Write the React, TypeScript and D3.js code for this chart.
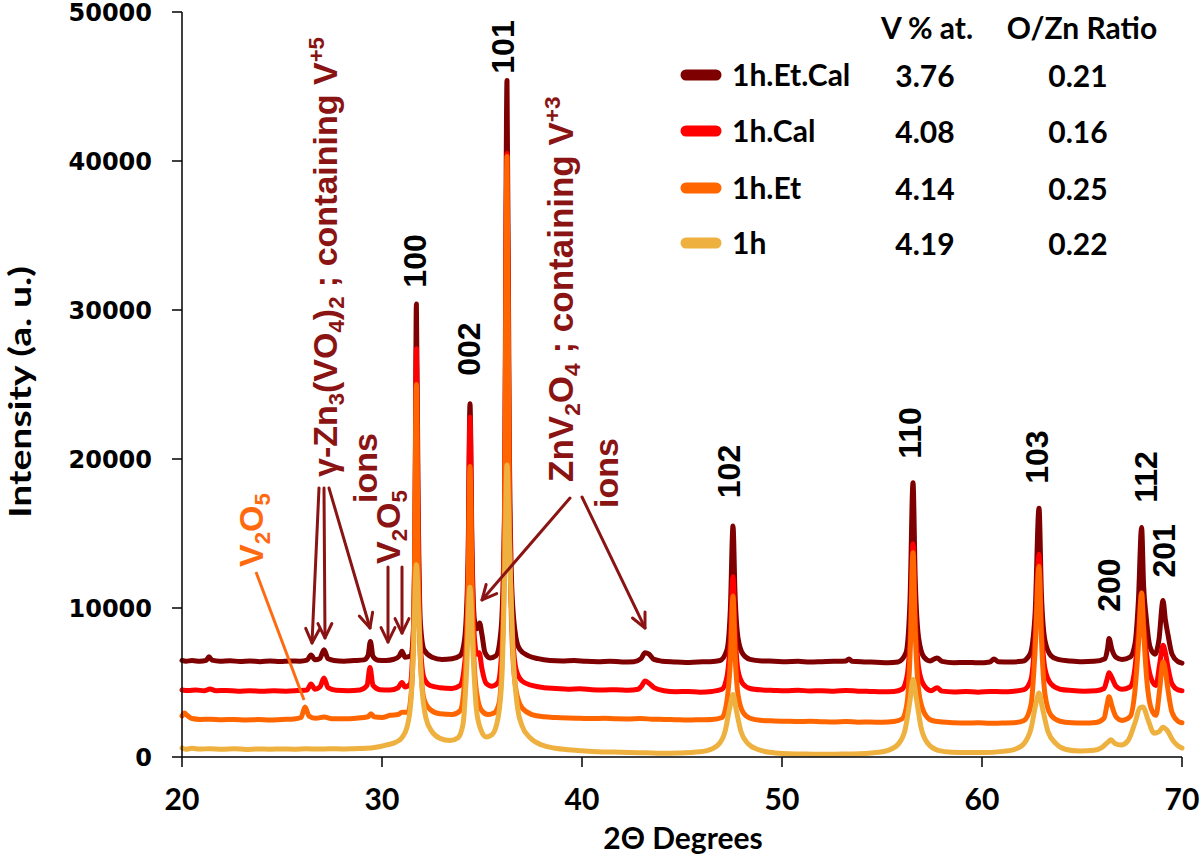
import React from 'react';
import * as d3 from 'd3';

type P = [number, number];

const seriesNames = ['1h.Et.Cal', '1h.Cal', '1h.Et', '1h'];
const vPercent = ['3.76', '4.08', '4.14', '4.19'];
const ozRatio = ['0.21', '0.16', '0.25', '0.22'];
const seriesColors = ['#7f0000', '#ff0000', '#ff6600', '#eeb03e'];
const xTicks = [20, 30, 40, 50, 60, 70];
const yTicks = [0, 10000, 20000, 30000, 40000, 50000];

const etCal: P[] = [
  [20.0, 6480], [20.2, 6430], [20.5, 6470], [20.9, 6420], [21.2, 6480], [21.35, 6720], [21.5, 6500], [21.9, 6430],
  [22.4, 6460], [22.9, 6410], [23.4, 6450], [23.9, 6400], [24.4, 6440], [24.9, 6410], [25.4, 6450], [25.9, 6430],
  [26.25, 6500], [26.45, 6850], [26.65, 6520], [26.9, 6620], [27.1, 7200], [27.3, 6600], [27.6, 6480], [28.1, 6430],
  [28.6, 6470], [29.1, 6520], [29.3, 6800], [29.42, 7750], [29.55, 6750], [29.8, 6500], [30.2, 6480], [30.6, 6560],
  [30.85, 6750], [31.0, 7100], [31.15, 6700], [31.45, 6800],
  [31.57, 8500], [31.65, 16000], [31.72, 30400], [31.8, 18000], [31.92, 9000], [32.1, 7200], [32.5, 6700], [33.0, 6550],
  [33.5, 6600], [33.9, 6800],
  [34.12, 7800], [34.3, 13000], [34.4, 23700], [34.5, 14000], [34.62, 9200], [34.75, 8600], [34.88, 9000], [35.0, 8200],
  [35.15, 7000], [35.4, 6650], [35.7, 6800],
  [35.95, 8500], [36.12, 16000], [36.25, 45400], [36.36, 22000], [36.5, 11000], [36.7, 8000], [36.9, 7200], [37.3, 6800],
  [37.8, 6600], [38.4, 6480], [39.0, 6450], [39.6, 6480], [40.2, 6420], [40.8, 6400], [41.4, 6430], [42.0, 6380],
  [42.6, 6400], [42.95, 6600], [43.15, 7000], [43.35, 6900], [43.6, 6550], [44.0, 6430], [44.6, 6380], [45.2, 6350],
  [45.8, 6380], [46.4, 6400], [46.9, 6480],
  [47.25, 7200], [47.42, 10000], [47.55, 15500], [47.65, 11000], [47.8, 8000], [48.05, 6900], [48.4, 6550], [49.0, 6450],
  [49.6, 6430], [50.2, 6400], [50.8, 6420], [51.4, 6380], [52.0, 6400], [52.6, 6420], [53.2, 6450], [53.35, 6580],
  [53.5, 6420], [54.1, 6380], [54.7, 6360], [55.3, 6330], [55.8, 6380],
  [56.2, 7000], [56.4, 10500], [56.55, 18400], [56.66, 12000], [56.83, 8000], [57.1, 6700], [57.4, 6450], [57.75, 6650],
  [58.0, 6420], [58.6, 6330], [59.2, 6350], [59.8, 6320], [60.4, 6380], [60.6, 6580], [60.8, 6400], [61.4, 6380],
  [62.0, 6420],
  [62.4, 6900], [62.65, 9500], [62.85, 16700], [62.97, 11000], [63.15, 7800], [63.45, 6800], [63.8, 6550], [64.4, 6450],
  [65.0, 6400], [65.6, 6420],
  [66.15, 6600], [66.28, 7300], [66.35, 7950], [66.5, 7200], [66.7, 6700], [67.0, 6550], [67.4, 6700],
  [67.65, 7600], [67.82, 10500], [67.98, 15400], [68.08, 11500], [68.2, 9500], [68.4, 7400], [68.65, 6900],
  [68.85, 7900], [69.05, 10500], [69.17, 9200], [69.3, 8200], [69.5, 6900], [69.8, 6400], [70.0, 6300],
];

const cal: P[] = [
  [20.0, 4500], [20.3, 4460], [20.7, 4500], [21.1, 4440], [21.4, 4560], [21.7, 4450], [22.2, 4470], [22.8, 4420],
  [23.4, 4450], [24.0, 4410], [24.6, 4440], [25.2, 4420], [25.8, 4460], [26.25, 4500], [26.45, 4900], [26.65, 4550],
  [26.9, 4700], [27.1, 5300], [27.3, 4650], [27.7, 4480], [28.3, 4450], [28.9, 4500], [29.25, 4800], [29.4, 6000],
  [29.55, 4800], [29.9, 4520], [30.4, 4500], [30.8, 4650], [31.0, 5000], [31.15, 4700], [31.4, 4900],
  [31.55, 7500], [31.64, 14000], [31.72, 27400], [31.8, 16000], [31.92, 7500], [32.1, 5300], [32.4, 4800], [32.9, 4650],
  [33.5, 4600], [33.9, 4800],
  [34.15, 6500], [34.3, 12000], [34.4, 22800], [34.5, 13000], [34.62, 8000], [34.75, 6900], [34.86, 7000], [35.0, 5900],
  [35.2, 4950], [35.5, 4750], [35.8, 5000],
  [35.98, 7000], [36.12, 15000], [36.25, 40500], [36.36, 19000], [36.5, 9000], [36.7, 5900], [37.0, 5100], [37.5, 4800],
  [38.1, 4650], [38.7, 4600], [39.3, 4550], [39.9, 4580], [40.5, 4520], [41.1, 4500], [41.7, 4520], [42.3, 4480],
  [42.8, 4550], [43.0, 4800], [43.15, 5100], [43.35, 4950], [43.6, 4650], [44.1, 4450], [44.7, 4380], [45.3, 4400],
  [45.9, 4350], [46.5, 4400], [47.0, 4550],
  [47.25, 5400], [47.42, 8000], [47.55, 12100], [47.65, 8500], [47.8, 5800], [48.05, 4900], [48.4, 4600], [49.0, 4500],
  [49.6, 4470], [50.2, 4450], [50.8, 4480], [51.4, 4430], [52.0, 4450], [52.6, 4420], [53.2, 4460], [53.8, 4420],
  [54.4, 4400], [55.0, 4380], [55.6, 4400], [56.0, 4550],
  [56.25, 5400], [56.42, 8500], [56.55, 14300], [56.66, 9500], [56.83, 6000], [57.1, 4800], [57.45, 4450], [57.75, 4650],
  [58.0, 4420], [58.6, 4370], [59.2, 4400], [59.8, 4350], [60.4, 4400], [61.0, 4380], [61.6, 4420], [62.1, 4520],
  [62.45, 5200], [62.65, 8000], [62.85, 13600], [62.97, 9000], [63.15, 5900], [63.45, 4900], [63.9, 4550], [64.5, 4460],
  [65.1, 4420], [65.7, 4450], [66.1, 4600],
  [66.25, 5200], [66.35, 5650], [66.5, 5300], [66.7, 4750], [67.0, 4550], [67.4, 4700],
  [67.65, 6000], [67.82, 8500], [67.98, 11000], [68.08, 9000], [68.22, 7000], [68.45, 5300], [68.7, 4800],
  [68.88, 6200], [69.05, 7500], [69.17, 7000], [69.3, 6000], [69.5, 4900], [69.8, 4500], [70.0, 4450],
];

const et: P[] = [
  [20.0, 2750], [20.12, 2950], [20.25, 2800], [20.5, 2580], [20.9, 2520], [21.4, 2540], [22.0, 2500], [22.6, 2520],
  [23.2, 2490], [23.8, 2510], [24.4, 2480], [25.0, 2520], [25.6, 2550], [25.95, 2650], [26.15, 3350], [26.35, 2750],
  [26.7, 2600], [27.1, 2680], [27.5, 2570], [28.1, 2560], [28.7, 2600], [29.3, 2700], [29.45, 2900], [29.6, 2700],
  [30.0, 2650], [30.4, 2800], [30.8, 2850], [31.0, 3000], [31.3, 3000],
  [31.5, 5000], [31.62, 12000], [31.72, 25000], [31.8, 14000], [31.92, 6500], [32.1, 3900], [32.4, 3200], [32.9, 2900],
  [33.5, 2850], [33.9, 3100],
  [34.15, 5500], [34.3, 11000], [34.4, 19500], [34.5, 11500], [34.62, 6000], [34.8, 3800], [35.0, 3100], [35.3, 2850],
  [35.6, 2950], [35.85, 3600],
  [36.0, 6500], [36.12, 14000], [36.25, 40300], [36.36, 18000], [36.5, 8000], [36.7, 4500], [37.0, 3300], [37.5, 2850],
  [38.1, 2700], [38.7, 2650], [39.3, 2620], [39.9, 2600], [40.5, 2580], [41.1, 2600], [41.7, 2560], [42.3, 2550],
  [42.9, 2580], [43.5, 2540], [44.1, 2520], [44.7, 2500], [45.3, 2480], [45.9, 2500], [46.5, 2520], [47.0, 2650],
  [47.25, 3800], [47.42, 6500], [47.55, 10800], [47.65, 7000], [47.8, 4200], [48.05, 3000], [48.4, 2600], [49.0, 2450],
  [49.6, 2420], [50.2, 2400], [50.8, 2380], [51.4, 2400], [52.0, 2370], [52.6, 2350], [53.2, 2380], [53.8, 2340],
  [54.4, 2350], [55.0, 2330], [55.6, 2380], [56.0, 2550],
  [56.25, 3600], [56.42, 7500], [56.55, 13700], [56.66, 8500], [56.83, 4500], [57.1, 3000], [57.5, 2450], [58.0, 2350],
  [58.6, 2300], [59.2, 2280], [59.8, 2300], [60.4, 2260], [61.0, 2280], [61.6, 2300], [62.1, 2450],
  [62.45, 3500], [62.65, 7000], [62.85, 12800], [62.97, 8000], [63.15, 4200], [63.45, 2800], [63.9, 2400], [64.5, 2300],
  [65.1, 2280], [65.7, 2320], [66.1, 2600],
  [66.25, 3500], [66.35, 4050], [66.5, 3400], [66.7, 2700], [67.0, 2450], [67.4, 2700],
  [67.65, 4500], [67.82, 7500], [67.98, 11000], [68.08, 8500], [68.22, 5500], [68.45, 3300], [68.7, 2800],
  [68.88, 4500], [69.05, 6400], [69.17, 5800], [69.3, 4500], [69.5, 3000], [69.8, 2400], [70.0, 2300],
];

const h1: P[] = [
  [20.0, 600], [20.2, 520], [20.5, 580], [20.9, 530], [21.4, 560], [22.0, 520], [22.6, 550], [23.2, 510],
  [23.8, 540], [24.4, 520], [25.0, 540], [25.6, 520], [26.2, 550], [26.8, 530], [27.4, 560], [28.0, 540],
  [28.6, 560], [29.2, 580], [29.7, 650], [30.2, 800], [30.7, 1000], [31.0, 1300], [31.25, 2000], [31.45, 3800],
  [31.58, 7500], [31.72, 12900], [31.84, 9500], [31.98, 5000], [32.2, 2600], [32.5, 1700], [32.9, 1250], [33.4, 1100],
  [33.8, 1300], [34.05, 2200], [34.22, 5500], [34.4, 11400], [34.55, 7000], [34.72, 3200], [34.95, 1800], [35.2, 1350],
  [35.5, 1500], [35.8, 2600], [36.0, 5500], [36.13, 12000], [36.25, 19600], [36.38, 14000], [36.55, 7000], [36.75, 3600],
  [37.0, 2100], [37.4, 1300], [38.0, 800], [38.6, 600], [39.3, 480], [40.0, 420], [40.8, 360], [41.6, 330],
  [42.4, 300], [43.2, 280], [44.0, 250], [44.8, 270], [45.6, 320], [46.3, 450], [46.8, 800], [47.15, 1700],
  [47.4, 3400], [47.55, 4200], [47.72, 3100], [47.95, 1700], [48.3, 900], [48.8, 500], [49.5, 300], [50.3, 220],
  [51.2, 200], [52.1, 180], [53.0, 200], [53.9, 220], [54.7, 300], [55.3, 450], [55.8, 850], [56.15, 1800],
  [56.4, 3800], [56.55, 5200], [56.72, 3900], [56.95, 2000], [57.3, 900], [57.8, 450], [58.5, 320], [59.3, 300],
  [60.1, 300], [60.9, 360], [61.6, 500], [62.1, 900], [62.45, 1900], [62.7, 3600], [62.85, 4300], [63.02, 3300],
  [63.3, 1700], [63.7, 900], [64.2, 500], [64.9, 400], [65.6, 450], [66.0, 650], [66.3, 1000], [66.45, 1150],
  [66.65, 900], [66.95, 800], [67.3, 1100], [67.65, 2300], [67.9, 3300], [68.05, 3350], [68.3, 2500], [68.6, 1600],
  [68.85, 1700], [69.05, 2000], [69.25, 1800], [69.55, 1100], [69.8, 750], [70.0, 600],
];

const series = [etCal, cal, et, h1];

// Miller-index labels: text, 2θ centre, intensity centre
const peakLabelText = ['100', '002', '101', '102', '110', '103', '200', '112', '201'];
const peakLabelX = [31.65, 34.35, 36.05, 47.33, 56.4, 62.75, 66.35, 68.2, 69.1];
const peakLabelY = [33290, 27380, 47650, 19160, 21750, 20130, 11540, 18790, 13830];

// Arrows (2θ, intensity) from -> to
const darkArrows: [P, P][] = [
  [[26.85, 18050], [26.5, 7650]],
  [[27.1, 18050], [27.15, 7990]],
  [[27.35, 18050], [29.4, 8660]],
  [[30.3, 12750], [30.3, 7720]],
  [[31.0, 12750], [31.0, 8320]],
  [[39.4, 17380], [35.0, 10540]],
  [[40.0, 17450], [43.15, 8660]],
];
const orangeLine: [P, P] = [[23.7, 12420], [26.1, 3830]];

// rich-text segments: [text, kind] where kind: '' normal, 'sub', 'back' (return from sub), 'sup'
type Seg = [string, string];
const gammaText: Seg[] = [
  ['γ-Zn', ''], ['3', 'sub'], ['(VO', 'back'], ['4', 'sub'], [')', 'back'], ['2', 'sub'],
  [' ; containing V', 'back'], ['+5', 'sup'],
];
const v2o5Text: Seg[] = [['V', ''], ['2', 'sub'], ['O', 'back'], ['5', 'sub']];
const znv2o4Text: Seg[] = [
  ['ZnV', ''], ['2', 'sub'], ['O', 'back'], ['4', 'sub'], [' ; containing V', 'back'], ['+3', 'sup'],
];
const ionsText: Seg[] = [['ions', '']];

export default function App() {
  const x = d3.scaleLinear().domain([20, 70]).range([182, 1182]);
  const y = d3.scaleLinear().domain([0, 50000]).range([757, 12]);
  const line = d3
    .line<P>()
    .x((d) => x(d[0]))
    .y((d) => y(d[1]))
    .curve(d3.curveMonotoneX);

  const dark = '#8a1414';
  const orangeTxt = '#ff6a10';
  const arial = 'Liberation Sans, Arial, sans-serif';
  const calib = 'Lato, Carlito, sans-serif';

  const arrowHead = (from: P, to: P) => {
    const x1 = x(from[0]), y1 = y(from[1]), x2 = x(to[0]), y2 = y(to[1]);
    const a = Math.atan2(y2 - y1, x2 - x1);
    const L = 16, w = 0.45;
    const p1 = [x2 - L * Math.cos(a - w), y2 - L * Math.sin(a - w)];
    const p2 = [x2 - L * Math.cos(a + w), y2 - L * Math.sin(a + w)];
    return `M${p1[0]},${p1[1]}L${x2},${y2}L${p2[0]},${p2[1]}`;
  };

  const vText = (px: number, py: number, fill: string, size: number, segs: Seg[], key: string) => (
    <text
      key={key}
      transform={`translate(${x(px)},${y(py)}) rotate(-90)`}
      fill={fill}
      fontSize={size}
      fontFamily={arial}
      fontWeight="bold"
    >
      {segs.map(([t, k], i) => {
        if (k === 'sub') return <tspan key={i} dy={7} fontSize="65%">{t}</tspan>;
        if (k === 'back') return <tspan key={i} dy={-7}>{t}</tspan>;
        if (k === 'sup') return <tspan key={i} dy={-13} fontSize="65%">{t}</tspan>;
        return <tspan key={i}>{t}</tspan>;
      })}
    </text>
  );

  const legendRowY = [75, 131, 188, 243];

  return (
    <svg width={1200} height={860} style={{ position: 'absolute', left: 0, top: 0, background: '#fff' }}>
      <rect width={1200} height={860} fill="#fff" />
      {/* series */}
      {series.map((s, i) => (
        <path
          key={i}
          d={line(s) || ''}
          fill="none"
          stroke={seriesColors[i]}
          strokeWidth={5}
          strokeLinejoin="round"
          strokeLinecap="round"
        />
      ))}

      {/* axes */}
      <line x1={x(20)} x2={x(20)} y1={y(50000)} y2={y(0)} stroke="#000" strokeWidth={1.5} />
      <line x1={x(20)} x2={x(70)} y1={y(0)} y2={y(0)} stroke="#000" strokeWidth={1.5} />
      {yTicks.map((t) => (
        <g key={t}>
          <line x1={x(20) - 10} x2={x(20)} y1={y(t)} y2={y(t)} stroke="#000" strokeWidth={1.5} />
          <text
            x={x(20) - 30}
            y={y(t) + 9}
            textAnchor="end"
            fontFamily="DejaVu Sans, Verdana, sans-serif"
            fontWeight="bold"
            fontSize={24}
            fill="#000"
          >
            {t}
          </text>
        </g>
      ))}
      {xTicks.map((t) => (
        <g key={t}>
          <line x1={x(t)} x2={x(t)} y1={y(0)} y2={y(0) + 10} stroke="#000" strokeWidth={1.5} />
          <text x={x(t)} y={810} textAnchor="middle" fontFamily={calib} fontWeight="bold" fontSize={30} fill="#000">
            {t}
          </text>
        </g>
      ))}
      <text x={683} y={849} textAnchor="middle" fontFamily={calib} fontWeight="bold" fontSize={30} fill="#000">
        2Θ Degrees
      </text>
      <text
        transform={`translate(31,392) rotate(-90)`}
        textAnchor="middle"
        fontFamily={calib}
        fontWeight="bold"
        fontSize={31}
        textLength={252}
        lengthAdjust="spacingAndGlyphs"
        fill="#000"
      >
        Intensity (a. u.)
      </text>

      {/* peak labels */}
      {peakLabelText.map((t, i) => (
        <text
          key={t}
          transform={`translate(${x(peakLabelX[i])},${y(peakLabelY[i])}) rotate(-90)`}
          textAnchor="middle"
          dominantBaseline="central"
          fontFamily={arial}
          fontWeight="bold"
          fontSize={32}
          fill="#000"
        >
          {t}
        </text>
      ))}

      {/* annotations */}
      {darkArrows.map(([f, t], i) => (
        <g key={i} stroke={dark} strokeWidth={3} fill="none" strokeLinecap="round" strokeLinejoin="round">
          <line x1={x(f[0])} y1={y(f[1])} x2={x(t[0])} y2={y(t[1])} />
          <path d={arrowHead(f, t)} />
        </g>
      ))}
      <line
        x1={x(orangeLine[0][0])}
        y1={y(orangeLine[0][1])}
        x2={x(orangeLine[1][0])}
        y2={y(orangeLine[1][1])}
        stroke={orangeTxt}
        strokeWidth={3}
      />
      {vText(27.75, 18790, dark, 34, gammaText, 'g1')}
      {vText(29.75, 17050, dark, 34, ionsText, 'g2')}
      {vText(30.9, 12950, dark, 34, v2o5Text, 'v1')}
      {vText(24.05, 12750, orangeTxt, 34, v2o5Text, 'v2')}
      {vText(39.55, 18460, dark, 35, znv2o4Text, 'z1')}
      {vText(41.8, 16710, dark, 34, ionsText, 'z2')}

      {/* legend / table */}
      <text x={927} y={39} textAnchor="middle" fontFamily={calib} fontWeight="bold" fontSize={30} fill="#000">
        V % at.
      </text>
      <text x={1082} y={39} textAnchor="middle" fontFamily={calib} fontWeight="bold" fontSize={30} fill="#000">
        O/Zn Ratio
      </text>
      {seriesNames.map((n, i) => (
        <g key={n}>
          <line
            x1={686}
            x2={716}
            y1={legendRowY[i]}
            y2={legendRowY[i]}
            stroke={seriesColors[i]}
            strokeWidth={11}
            strokeLinecap="round"
          />
          <text x={732} y={legendRowY[i] + 11} fontFamily={calib} fontWeight="bold" fontSize={30} fill="#000">
            {n}
          </text>
          <text x={925} y={legendRowY[i] + 12} textAnchor="middle" fontFamily={calib} fontWeight="bold" fontSize={30} fill="#000">
            {vPercent[i]}
          </text>
          <text x={1078} y={legendRowY[i] + 12} textAnchor="middle" fontFamily={calib} fontWeight="bold" fontSize={30} fill="#000">
            {ozRatio[i]}
          </text>
        </g>
      ))}
    </svg>
  );
}
